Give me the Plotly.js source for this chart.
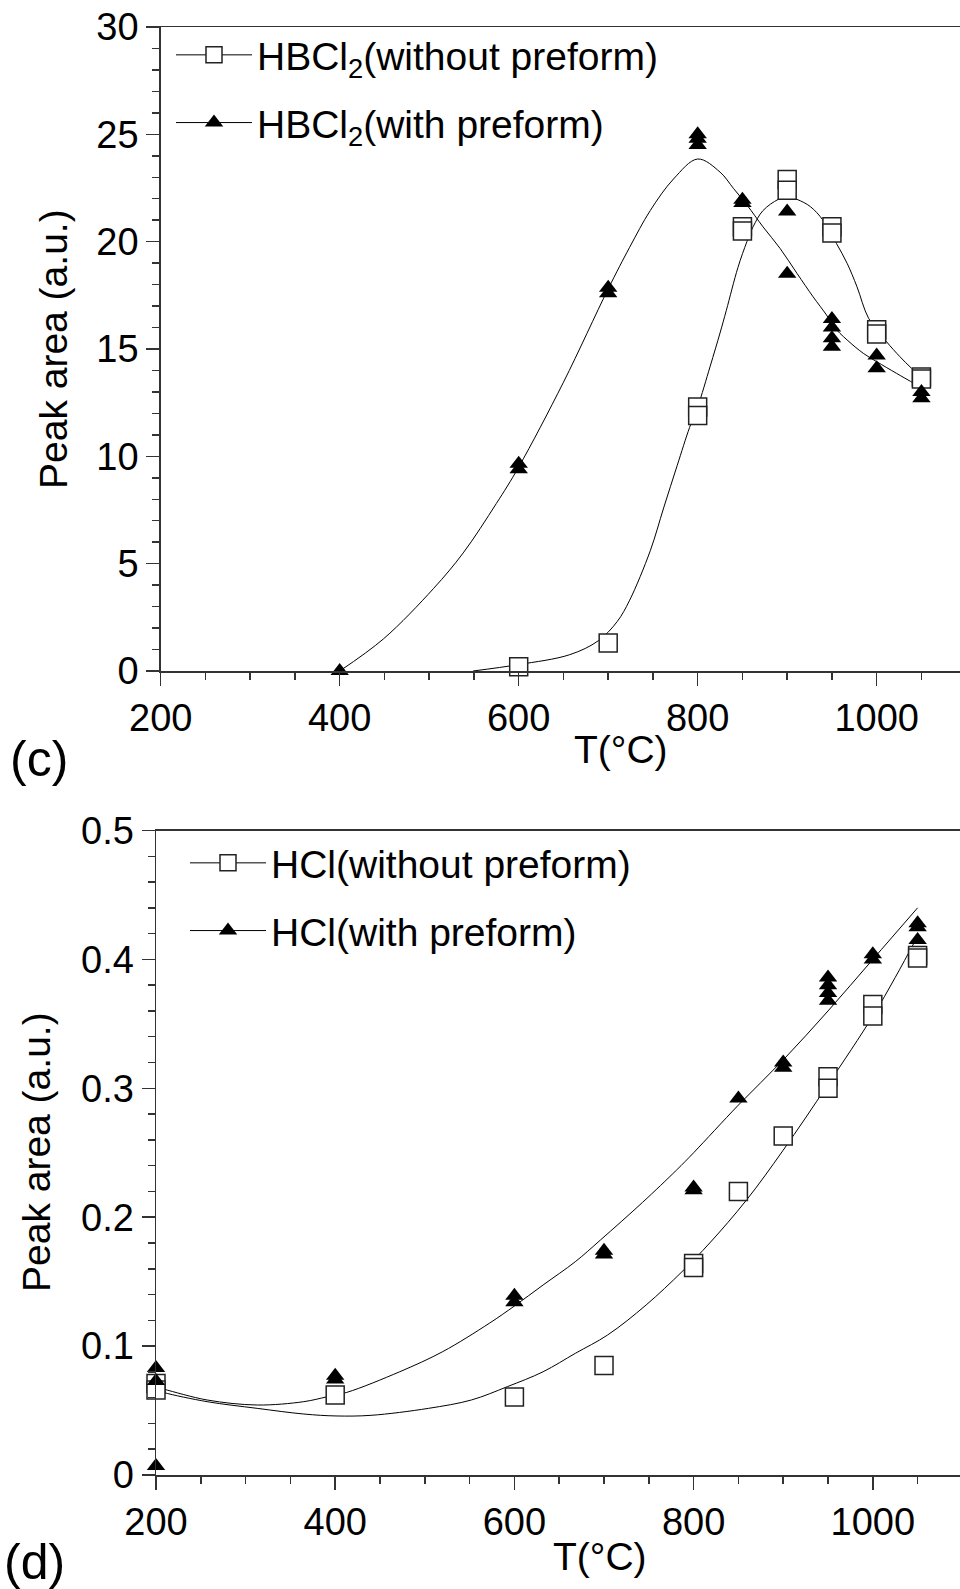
<!DOCTYPE html>
<html><head><meta charset="utf-8">
<script src="https://cdn.plot.ly/plotly-3.0.1.min.js"></script>
<style>html,body{margin:0;padding:0;background:#fff}#chart{width:960px;height:1589px}</style>
</head><body><div id="chart"></div>
<script>
// ---- Panel (c): HBCl2 ----
const T_c_without = [600, 700, 800, 800, 850, 850, 900, 900, 950, 950, 1000, 1000, 1050, 1050];
const A_c_without = [0.2, 1.3, 12.3, 11.9, 20.7, 20.5, 22.9, 22.4, 20.7, 20.4, 15.9, 15.7, 13.7, 13.6];
const T_c_with = [400, 600, 600, 700, 700, 800, 800, 800, 850, 850, 900, 900, 950, 950, 950, 950, 1000, 1000, 1050, 1050];
const A_c_with = [0, 9.65, 9.4, 17.85, 17.6, 25.0, 24.8, 24.5, 21.95, 21.8, 21.4, 18.5, 16.4, 16.0, 15.5, 15.1, 14.7, 14.1, 13.0, 12.7];
// fitted curves
const fitT_c_without = [549, 600, 657, 689, 710, 724, 747, 762, 777, 791, 800, 814, 825, 832, 845, 855, 862, 873, 890, 900, 911, 926, 940, 955, 967, 978, 991, 1011, 1026, 1039, 1050];
const fitA_c_without = [0, 0.30, 0.76, 1.41, 2.3, 3.3, 5.6, 7.6, 9.56, 11.35, 12.3, 14.2, 15.75, 16.8, 18.8, 20.0, 20.7, 21.45, 21.97, 22.1, 21.97, 21.63, 21.0, 19.92, 18.99, 17.9, 16.43, 15.34, 14.64, 14.1, 13.71];
const fitT_c_with = [400, 449, 505, 538, 575, 600, 650, 700, 724, 747, 773, 800, 825, 840, 855, 873, 892, 911, 929, 944, 952, 967, 985, 1000, 1022, 1045];
const fitA_c_with = [0, 1.5, 3.85, 5.5, 7.8, 9.5, 13.45, 17.8, 19.74, 21.45, 22.92, 23.85, 23.24, 22.48, 21.71, 20.69, 19.69, 18.52, 17.43, 16.58, 16.04, 15.42, 14.8, 14.41, 13.87, 13.32];

// ---- Panel (d): HCl ----
const T_d_without = [200, 200, 400, 600, 700, 800, 800, 850, 900, 950, 950, 1000, 1000, 1050, 1050];
const A_d_without = [0.071, 0.066, 0.062, 0.0605, 0.085, 0.164, 0.161, 0.220, 0.263, 0.309, 0.300, 0.365, 0.356, 0.403, 0.401];
const T_d_with = [200, 200, 200, 400, 400, 600, 600, 700, 700, 800, 800, 850, 900, 900, 950, 950, 950, 950, 1000, 1000, 1050, 1050, 1050];
const A_d_with = [0.083, 0.073, 0.007, 0.077, 0.074, 0.139, 0.134, 0.174, 0.171, 0.223, 0.221, 0.292, 0.320, 0.316, 0.386, 0.380, 0.374, 0.368, 0.404, 0.400, 0.428, 0.425, 0.415];
const fitT_d_without = [200, 209, 257, 313, 365, 401, 440, 504, 552, 592, 632, 668, 704, 747, 787, 818, 859, 900, 950, 1000, 1025, 1050];
const fitA_d_without = [0.066, 0.0639, 0.0569, 0.0517, 0.0473, 0.0458, 0.0463, 0.0517, 0.0582, 0.0685, 0.0801, 0.0944, 0.1086, 0.1319, 0.1577, 0.180, 0.2133, 0.252, 0.303, 0.356, 0.386, 0.418];
const fitT_d_with = [200, 209, 257, 313, 365, 391, 413, 472, 520, 572, 600, 632, 668, 696, 743, 781, 800, 850, 900, 950, 1000, 1050];
const fitA_d_with = [0.068, 0.0665, 0.0582, 0.0543, 0.0569, 0.0607, 0.0641, 0.0801, 0.0957, 0.1177, 0.1311, 0.1474, 0.1655, 0.1823, 0.2115, 0.2366, 0.250, 0.287, 0.322, 0.360, 0.400, 0.440];

const xTicks = [200, 400, 600, 800, 1000];
const yTicks_c = [0, 5, 10, 15, 20, 25, 30];
const yTicks_d = [0, 0.1, 0.2, 0.3, 0.4, 0.5];
const yTickText_d = ['0', '0.1', '0.2', '0.3', '0.4', '0.5'];

const names_c = ['HBCl<sub>2</sub>(without preform)', 'HBCl<sub>2</sub>(with preform)'];
const names_d = ['HCl(without preform)', 'HCl(with preform)'];
const labels = ['(c)', '(d)'];
const xTitle = 'T(°C)';
const yTitle = 'Peak area (a.u.)';

const FONT = 'Liberation Sans, Arial, Helvetica, sans-serif';
const H = 1589, W = 960;
const px = v => v / W, py = v => 1 - v / H;

const sq = {symbol: 'square', size: 18, color: '#ffffff', line: {color: '#222', width: 1.5}};
const tri = {symbol: 'triangle-up', size: 16, color: '#000000', line: {width: 0}};
const fitLine = {color: '#000', width: 1, shape: 'spline', smoothing: 1};

const traces = [
  {x: fitT_c_without, y: fitA_c_without, mode: 'lines', line: fitLine, showlegend: false, xaxis: 'x', yaxis: 'y', hoverinfo: 'skip'},
  {x: fitT_c_with, y: fitA_c_with, mode: 'lines', line: fitLine, showlegend: false, xaxis: 'x', yaxis: 'y', hoverinfo: 'skip'},
  {x: T_c_without, y: A_c_without, mode: 'markers', marker: sq, showlegend: false, cliponaxis: false, xaxis: 'x', yaxis: 'y'},
  {x: T_c_with, y: A_c_with, mode: 'markers', marker: tri, showlegend: false, cliponaxis: false, xaxis: 'x', yaxis: 'y'},
  {x: [null], y: [null], name: names_c[0], mode: 'lines+markers', marker: sq, line: {color: '#000', width: 1}, legend: 'legend', legendgroup: 'c1', xaxis: 'x', yaxis: 'y'},
  {x: [null], y: [null], name: names_c[1], mode: 'lines+markers', marker: tri, line: {color: '#000', width: 1}, legend: 'legend', legendgroup: 'c2', xaxis: 'x', yaxis: 'y'},

  {x: fitT_d_without, y: fitA_d_without, mode: 'lines', line: fitLine, showlegend: false, xaxis: 'x2', yaxis: 'y2', hoverinfo: 'skip'},
  {x: fitT_d_with, y: fitA_d_with, mode: 'lines', line: fitLine, showlegend: false, xaxis: 'x2', yaxis: 'y2', hoverinfo: 'skip'},
  {x: T_d_without, y: A_d_without, mode: 'markers', marker: sq, showlegend: false, cliponaxis: false, xaxis: 'x2', yaxis: 'y2'},
  {x: T_d_with, y: A_d_with, mode: 'markers', marker: tri, showlegend: false, cliponaxis: false, xaxis: 'x2', yaxis: 'y2'},
  {x: [null], y: [null], name: names_d[0], mode: 'lines+markers', marker: sq, line: {color: '#000', width: 1}, legend: 'legend2', legendgroup: 'd1', xaxis: 'x2', yaxis: 'y2'},
  {x: [null], y: [null], name: names_d[1], mode: 'lines+markers', marker: tri, line: {color: '#000', width: 1}, legend: 'legend2', legendgroup: 'd2', xaxis: 'x2', yaxis: 'y2'}
];

const axisCommon = {
  showline: true, linecolor: '#333', linewidth: 1.5, showgrid: false, zeroline: false,
  ticks: 'outside', ticklen: 13, tickwidth: 1.5, tickcolor: '#333',
  tickfont: {size: 38, color: '#000', family: FONT}
};
const minorCommon = {ticks: 'outside', ticklen: 7, tickwidth: 1.5, tickcolor: '#333', showgrid: false};

const layout = {
  width: W, height: H,
  margin: {l: 0, r: 0, t: 0, b: 0},
  paper_bgcolor: '#fff', plot_bgcolor: '#fff',
  font: {family: FONT, color: '#000'},
  showlegend: true,
  xaxis: Object.assign({}, axisCommon, {
    domain: [px(160.7), 1], range: [200, 1093.1], anchor: 'y', mirror: true,
    tickmode: 'array', tickvals: xTicks, minor: Object.assign({dtick: 50, tick0: 200}, minorCommon)
  }),
  yaxis: Object.assign({}, axisCommon, {
    domain: [py(671), py(27)], range: [0, 30], anchor: 'x',
    tickmode: 'array', tickvals: yTicks_c, minor: Object.assign({dtick: 1, tick0: 0}, minorCommon)
  }),
  xaxis2: Object.assign({}, axisCommon, {
    domain: [px(156), 1], range: [200, 1097.3], anchor: 'y2', mirror: true,
    tickmode: 'array', tickvals: xTicks, minor: Object.assign({dtick: 50, tick0: 200}, minorCommon)
  }),
  yaxis2: Object.assign({}, axisCommon, {
    domain: [py(1475), py(830.5)], range: [0, 0.5], anchor: 'x2',
    tickmode: 'array', tickvals: yTicks_d, ticktext: yTickText_d, minor: Object.assign({dtick: 0.02, tick0: 0}, minorCommon)
  }),
  legend: {
    x: px(171), y: py(23), xanchor: 'left', yanchor: 'top', bgcolor: 'rgba(0,0,0,0)',
    font: {size: 39, family: FONT, color: '#000'}, itemwidth: 76, tracegroupgap: 14, traceorder: 'grouped'
  },
  legend2: {
    x: px(185), y: py(831), xanchor: 'left', yanchor: 'top', bgcolor: 'rgba(0,0,0,0)',
    font: {size: 39, family: FONT, color: '#000'}, itemwidth: 76, tracegroupgap: 14, traceorder: 'grouped'
  },
  annotations: [
    {text: yTitle, textangle: -90, x: px(53), y: py(349), xref: 'paper', yref: 'paper', showarrow: false, xanchor: 'center', yanchor: 'middle', font: {size: 39}},
    {text: yTitle, textangle: -90, x: px(36), y: py(1152), xref: 'paper', yref: 'paper', showarrow: false, xanchor: 'center', yanchor: 'middle', font: {size: 39}},
    {text: xTitle, x: px(621), y: py(749), xref: 'paper', yref: 'paper', showarrow: false, xanchor: 'center', yanchor: 'middle', font: {size: 39}},
    {text: xTitle, x: px(600), y: py(1556), xref: 'paper', yref: 'paper', showarrow: false, xanchor: 'center', yanchor: 'middle', font: {size: 39}},
    {text: labels[0], x: px(39), y: py(759), xref: 'paper', yref: 'paper', showarrow: false, xanchor: 'center', yanchor: 'middle', font: {size: 50}},
    {text: labels[1], x: px(34), y: py(1562), xref: 'paper', yref: 'paper', showarrow: false, xanchor: 'center', yanchor: 'middle', font: {size: 50}}
  ]
};

Plotly.newPlot('chart', traces, layout, {displayModeBar: false, staticPlot: true});
</script>
</body></html>
